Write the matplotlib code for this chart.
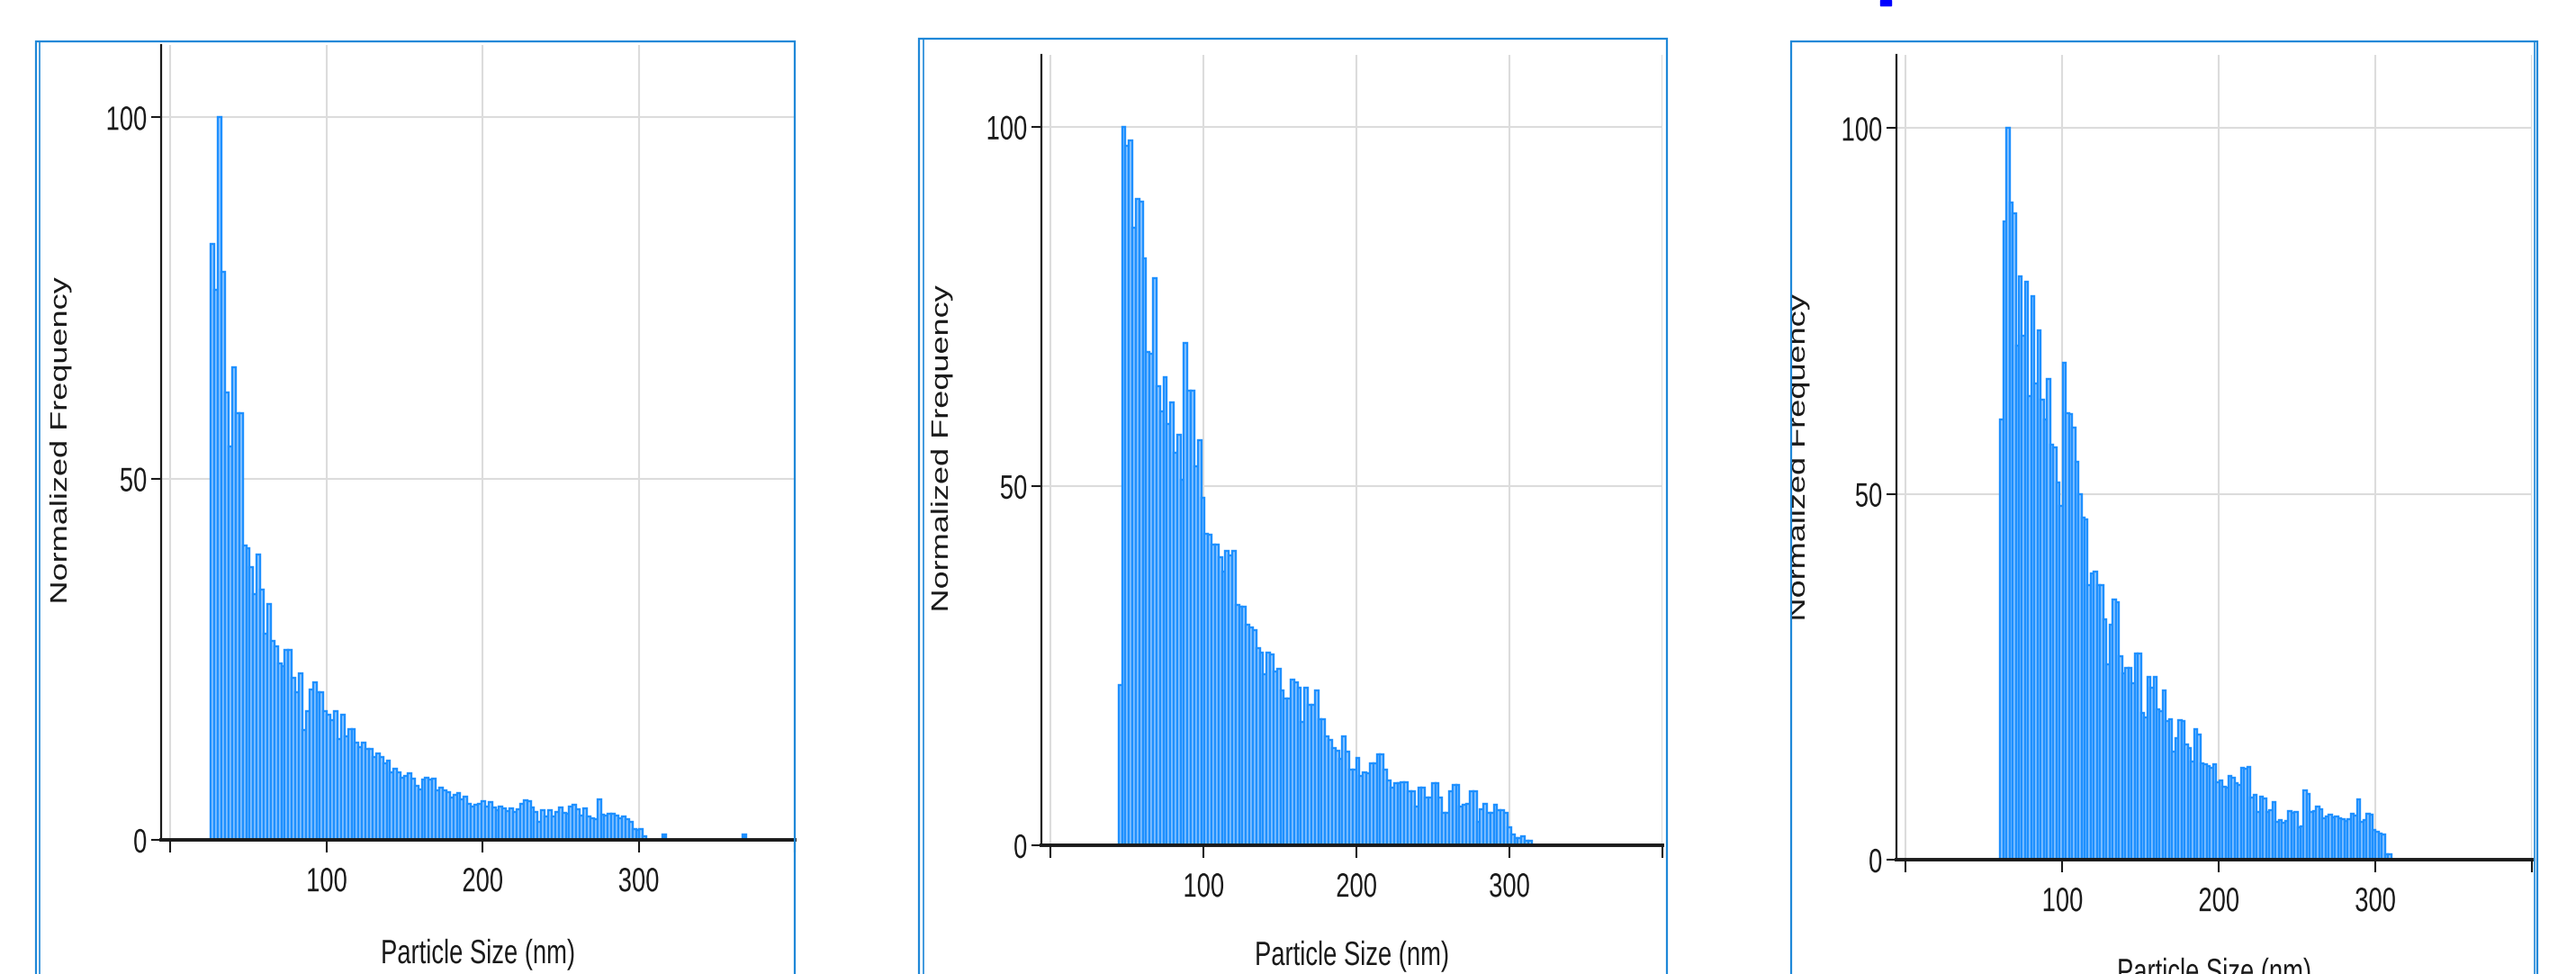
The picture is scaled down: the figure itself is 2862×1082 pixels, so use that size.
import numpy as np
import matplotlib.pyplot as plt
from matplotlib.patches import Rectangle
from matplotlib.lines import Line2D
from matplotlib.patheffects import AbstractPathEffect
from matplotlib.transforms import Affine2D, Bbox, TransformedBbox

# ==========================
# Data
# ==========================

size_ticks = [0, 100, 200, 300, 400]
size_tick_labels = ['', '100', '200', '300', '']
freq_ticks = [0, 50, 100]
freq_tick_labels = ['0', '50', '100']

x_label = 'Particle Size (nm)'
y_label = 'Normalized Frequency'

# left histogram
p1_start = 26.0
p1_width = 2.25
p1_freq = [
    82.5, 76.1, 100, 78.6, 61.9, 54.4, 65.4, 59.1, 59.1, 40.7,
    40.4, 37.7, 34.0, 39.5, 34.6, 28.5, 32.6, 27.5, 26.8, 24.4,
    24.0, 26.3, 26.3, 22.4, 20.4, 23.1, 15.2, 17.8, 20.8, 21.8,
    20.4, 20.4, 17.8, 17.3, 16.6, 17.8, 14.0, 17.3, 14.3, 15.3,
    15.3, 13.4, 12.8, 13.4,
    12.6, 12.6, 11.5, 12.0, 11.5, 10.6, 11.0, 9.3, 9.8, 9.3,
    8.6, 8.9, 9.2, 8.5, 7.5, 7.0, 8.4, 8.6, 8.4, 8.5,
    6.8, 7.2, 6.8, 6.6, 5.8, 6.2, 6.5, 5.6, 6.0, 5.0,
    4.6, 4.9, 5.0, 5.3, 4.6, 5.2, 4.5, 4.1, 4.6, 4.4,
    4.0, 4.4, 3.9, 4.2, 5.0, 5.5, 5.4, 4.5, 3.9, 2.5,
    4.1, 3.3, 4.1, 3.3, 3.9, 4.5, 3.7, 3.6, 4.6, 4.8,
    4.2, 3.4, 4.3, 3.3, 3.0, 2.9, 5.6, 3.5, 3.4, 3.6,
    3.6, 3.4, 3.0, 3.2, 2.9, 2.5, 1.5, 1.4, 1.5, 0.5,
]
p1_extra_size = [315.0, 366.5]
p1_extra_freq = [0.8, 0.8]

# middle histogram
p2_start = 44.5
p2_width = 2.25
p2_freq = [
    22.3, 100, 97.3, 98.1, 86.0, 89.9, 89.6, 81.7, 68.6, 68.4,
    78.9, 63.9, 60.4, 65.2, 58.6, 61.7, 54.6, 57.1, 50.9, 69.9,
    63.3, 63.3, 52.8, 56.4, 48.4, 43.3, 43.2, 41.8, 41.8, 40.1,
    38.1, 41.0, 40.4, 41.0, 33.5, 33.2, 33.2, 30.7, 30.3, 30.0,
    27.5, 26.8, 23.8, 26.8, 26.5, 24.2, 24.6, 21.6, 20.4, 20.4,
    23.0, 22.7, 21.9, 17.2, 21.9, 19.5, 19.5, 21.5, 17.5, 17.5,
    15.1, 14.6, 13.5, 13.2, 12.0, 15.1,
    13.0, 10.5, 10.5, 12.1, 9.7, 10.2, 10.0, 11.4, 11.4, 12.7,
    12.7, 10.5, 9.0, 8.0, 8.6, 8.6, 8.8, 8.8, 7.5, 7.5,
    5.4, 8.0, 8.0, 6.7, 6.7, 8.6, 8.6, 6.7, 4.5, 4.5,
    7.5, 8.4, 8.4, 5.4, 5.6, 5.8, 7.5, 7.5, 3.2, 5.0,
    5.8, 4.5, 4.5, 5.6, 4.9, 4.9, 4.5, 2.5, 1.5, 1.0,
    1.0, 1.2, 0.6, 0.6,
]

# right histogram
p3_start = 60.2
p3_width = 2.0
p3_freq = [
    60.2, 87.2, 100, 89.8, 88.4, 70.2, 79.7, 71.6, 79.0, 63.4,
    77.0, 65.1, 72.4, 62.9, 60.2, 65.7, 56.7, 56.4, 51.5, 48.3,
    67.9, 61.0, 60.9, 59.0, 54.4, 49.9, 46.8, 46.5, 37.5, 39.1,
    39.4, 37.5, 37.5, 32.8, 26.7, 32.1, 35.5, 35.2, 27.8, 25.5,
    26.2, 26.2, 24.1, 28.2, 28.2, 20.1, 19.5, 25.0, 23.5, 25.0,
    20.6, 20.3, 23.1, 18.9, 19.2, 14.8, 16.6, 19.1, 18.9, 15.7,
    15.2, 13.4, 17.9, 17.1,
    13.2, 13.0, 12.8, 12.6, 13.0, 10.6, 10.8, 10.0, 9.8, 11.4,
    11.2, 10.4, 10.2, 12.6, 12.4, 12.7, 8.5, 8.8, 6.5, 8.6,
    8.4, 6.5, 6.8, 7.9, 5.2, 5.4, 5.0, 5.3, 6.7, 6.4,
    6.5, 4.4, 4.6, 9.5, 9.0, 6.5, 6.7, 7.2, 6.9, 5.7,
    5.9, 6.1, 5.8, 5.9, 5.6, 5.5, 5.3, 5.5, 6.3, 6.0,
    8.3, 5.2, 5.4, 6.3, 6.1, 4.0, 3.8, 3.6, 3.4, 0.7,
    0.7,
]

# ==========================
# Styling
# ==========================

W, H = 2862, 1082
bar_edge = '#1e90ff'
bar_fill = '#94c9ff'
frame_blue = '#1f88d8'
grid_grey = '#dcdcdc'
ink = '#1a1a1a'
font = ['Liberation Sans', 'DejaVu Sans']
squeeze_x = 0.73


class Squeeze(AbstractPathEffect):
    """Narrow the glyphs sideways, the screenshot was stretched tall."""

    def __init__(self, sx, anchor='center'):
        super().__init__()
        self.sx = sx
        self.anchor = anchor

    def draw_path(self, renderer, gc, tpath, affine, rgbFace=None):
        ext = tpath.get_extents(affine)
        if self.anchor == 'right':
            cx = ext.x1
        else:
            cx = 0.5 * (ext.x0 + ext.x1)
        narrow = affine + Affine2D().translate(-cx, 0).scale(self.sx, 1).translate(cx, 0)
        renderer.draw_path(gc, tpath, narrow, rgbFace)


def fx(px):
    return px / W


def fy(py):
    return 1 - py / H


fig = plt.figure(figsize=(W / 100, H / 100), dpi=100)
fig.patch.set_facecolor('white')

panels = [
    dict(freq=p1_freq, start=p1_start, width=p1_width,
         box=(179, 883, 50, 933), frame=(40, 883, 46), inner=44,
         ylab=(67, 490), xlab=(531, 1060)),
    dict(freq=p2_freq, start=p2_start, width=p2_width,
         box=(1157, 1847, 61, 939), frame=(1021, 1852, 43), inner=1026,
         ylab=(1046, 499), xlab=(1502, 1062)),
    dict(freq=p3_freq, start=p3_start, width=p3_width,
         box=(2107, 2813, 61, 955), frame=(1990, 2819, 46), inner=2816,
         ylab=(1998, 509), xlab=(2460, 1081)),
]

for i, p in enumerate(panels):
    l, r, t, b = p['box']
    ax = fig.add_axes([fx(l), fy(b), (r - l) / W, (b - t) / H])

    edges = p['start'] + p['width'] * np.arange(len(p['freq']))
    ax.bar(edges, p['freq'], width=p['width'], align='edge',
           facecolor=bar_fill, edgecolor=bar_edge, linewidth=1.7)
    if i == 0:
        ax.bar(p1_extra_size, p1_extra_freq, width=p1_width, align='edge',
               facecolor=bar_edge, edgecolor=bar_edge, linewidth=1.7)

    ax.set_xlim(-6, 400)
    ax.set_ylim(0, 110)
    ax.set_xticks(size_ticks, size_tick_labels)
    ax.set_yticks(freq_ticks, freq_tick_labels)

    for s in ['top', 'right']:
        ax.spines[s].set_visible(False)
    ax.spines['left'].set_color(ink)
    ax.spines['left'].set_linewidth(1.6)
    ax.spines['bottom'].set_color(ink)
    ax.spines['bottom'].set_linewidth(2.8)

    ax.tick_params(axis='x', length=10, width=1.5, pad=11, colors=ink,
                   labelsize=27, labelfontfamily=font)
    ax.tick_params(axis='y', length=8, width=1.5, pad=3, colors=ink,
                   labelsize=27, labelfontfamily=font)
    for lbl in ax.get_xticklabels():
        lbl.set_path_effects([Squeeze(squeeze_x)])
    for lbl in ax.get_yticklabels():
        lbl.set_path_effects([Squeeze(squeeze_x, 'right')])

    ax.grid(True, color=grid_grey, linewidth=1.5)
    ax.set_axisbelow(True)

    # labels
    xl = fig.text(fx(p['xlab'][0]), fy(p['xlab'][1]), x_label,
                  ha='center', va='center', fontsize=27, color=ink,
                  family=font)
    xl.set_path_effects([Squeeze(squeeze_x)])
    yl = fig.text(fx(p['ylab'][0]), fy(p['ylab'][1]), y_label,
                  rotation=90, ha='center', va='center', fontsize=26,
                  color=ink, family=font)
    yl.set_path_effects([Squeeze(squeeze_x)])

    # blue window frame around each chart
    fl, fr, ft = p['frame']
    fig.add_artist(Rectangle((fx(fl), fy(1110)), (fr - fl) / W, (1110 - ft) / H,
                             transform=fig.transFigure, fill=False,
                             edgecolor=frame_blue, linewidth=1.6))
    fig.add_artist(Line2D([fx(p['inner'])] * 2, [fy(ft), fy(1110)],
                          transform=fig.transFigure, color=frame_blue,
                          linewidth=1.2))
    if i == 2:
        yl.set_clip_box(TransformedBbox(Bbox.from_extents(fx(fl + 1), 0, 1, 1),
                                        fig.transFigure))
        yl.set_clip_on(True)

# fragment of a cut-off heading above the right chart
fig.add_artist(Rectangle((fx(2089), fy(6)), 12 / W, 6 / H,
                         transform=fig.transFigure, color='#0000ff'))

fig.savefig('out.png', dpi=100, facecolor='white')
